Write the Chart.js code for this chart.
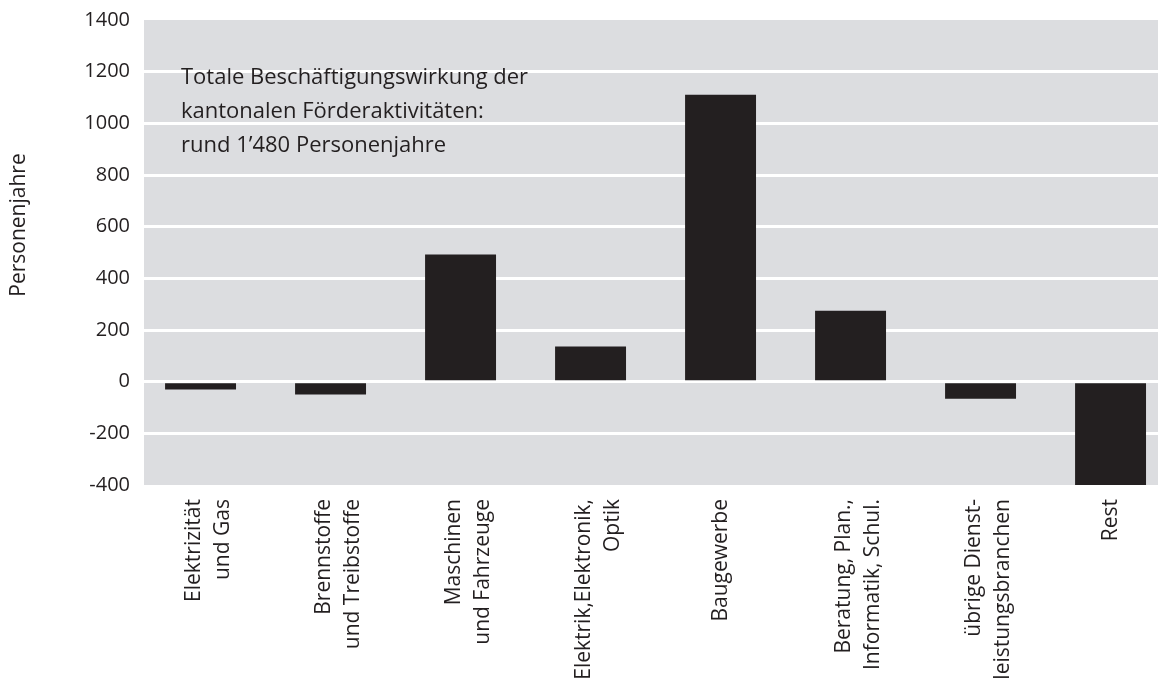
<!DOCTYPE html>
<html lang="de">
<head>
    <meta charset="UTF-8">
    <title>Personenjahre</title>
    <script src="https://cdn.jsdelivr.net/npm/chart.js@4"></script>
    <style>
        body{
            margin: 0;
            background-color: #ffffff;
        }
        .grafica{
            width: 1158px;
            height: 689px;
        }
    </style>
</head>
<body>
    <div class="grafica">
        <canvas id="miCanvas" width="1158" height="689"></canvas>
    </div>
    <script>
        // Daten
        const branchen = [
            ["Elektrizität", "und Gas"],
            ["Brennstoffe", "und Treibstoffe"],
            ["Maschinen", "und Fahrzeuge"],
            ["Elektrik,Elektronik,", "Optik"],
            ["Baugewerbe"],
            ["Beratung, Plan.,", "Informatik, Schul."],
            ["übrige Dienst-", "leistungsbranchen"],
            ["Rest"]
        ];
        const personenjahre = [-30, -50, 492, 136, 1111, 275, -66, -400];
        const yTicks = [-400, -200, 0, 200, 400, 600, 800, 1000, 1200, 1400];
        const hinweis = [
            "Totale Beschäftigungswirkung der",
            "kantonalen Förderaktivitäten:",
            "rund 1’480 Personenjahre"
        ];
        const yTitel = "Personenjahre";

        const schrift = "'Open Sans', 'Noto Sans', sans-serif";
        const textFarbe = "#231f20";

        const punkte = personenjahre.map((v, i) => ({x: i, y: v}));

        // grauer Hintergrund, Hinweistext und y-Titel
        const hintergrund = {
            id: "hintergrund",
            beforeDraw(chart) {
                const {ctx, chartArea} = chart;
                ctx.save();
                ctx.fillStyle = "#dcdde0";
                ctx.fillRect(chartArea.left, chartArea.top, chartArea.right - chartArea.left, chartArea.bottom - chartArea.top);
                ctx.restore();
            },
            afterDraw(chart) {
                const {ctx, chartArea} = chart;
                ctx.save();
                ctx.fillStyle = textFarbe;
                ctx.font = "22px " + schrift;
                ctx.textBaseline = "middle";
                hinweis.forEach((z, i) => {
                    ctx.fillText(z, chartArea.left + 37, 78 + i * 34);
                });
                ctx.translate(19, 225);
                ctx.rotate(-Math.PI / 2);
                ctx.textAlign = "center";
                ctx.font = "21px " + schrift;
                ctx.fillText(yTitel, 0, 0);
                ctx.restore();
            }
        };

        new Chart(document.getElementById("miCanvas"), {
            type: "bar",
            data: {
                datasets: [{
                    data: punkte,
                    backgroundColor: "#231f20",
                    borderWidth: 0,
                    barPercentage: 75 / 130,
                    categoryPercentage: 1
                }]
            },
            plugins: [hintergrund],
            options: {
                responsive: false,
                animation: false,
                layout: {padding: {top: 0, left: 0, right: 0, bottom: 0}},
                plugins: {
                    legend: {display: false},
                    tooltip: {enabled: false}
                },
                scales: {
                    x: {
                        type: "linear",
                        offset: false,
                        min: -0.435,
                        max: 7.365,
                        afterBuildTicks(scale) {
                            // mehrzeilige Beschriftungen etwas nach links, wie im Original
                            scale.ticks = branchen.map((b, i) => ({value: i - (b.length - 1) * 0.054}));
                        },
                        afterFit(scale) {
                            scale.height = 204;
                        },
                        grid: {display: false, drawTicks: false},
                        border: {display: false},
                        ticks: {
                            autoSkip: false,
                            maxRotation: 90,
                            minRotation: 90,
                            padding: 14,
                            color: textFarbe,
                            font: {family: schrift, size: 21, lineHeight: 1.4},
                            callback: (v, i) => branchen[i]
                        }
                    },
                    y: {
                        min: -400,
                        max: 1400,
                        afterBuildTicks(scale) {
                            scale.ticks = yTicks.map((v) => ({value: v}));
                        },
                        afterFit(scale) {
                            scale.width = 144;
                        },
                        grid: {
                            color: (c) => (c.tick && (c.tick.value === 1400 || c.tick.value === -400)) ? "rgba(0,0,0,0)" : "#ffffff",
                            lineWidth: 3,
                            drawTicks: false
                        },
                        border: {display: false},
                        ticks: {
                            padding: 14,
                            color: textFarbe,
                            font: {family: schrift, size: 20, lineHeight: 0.6},
                            callback: (v) => String(v)
                        }
                    }
                }
            }
        });
    </script>
</body>
</html>
